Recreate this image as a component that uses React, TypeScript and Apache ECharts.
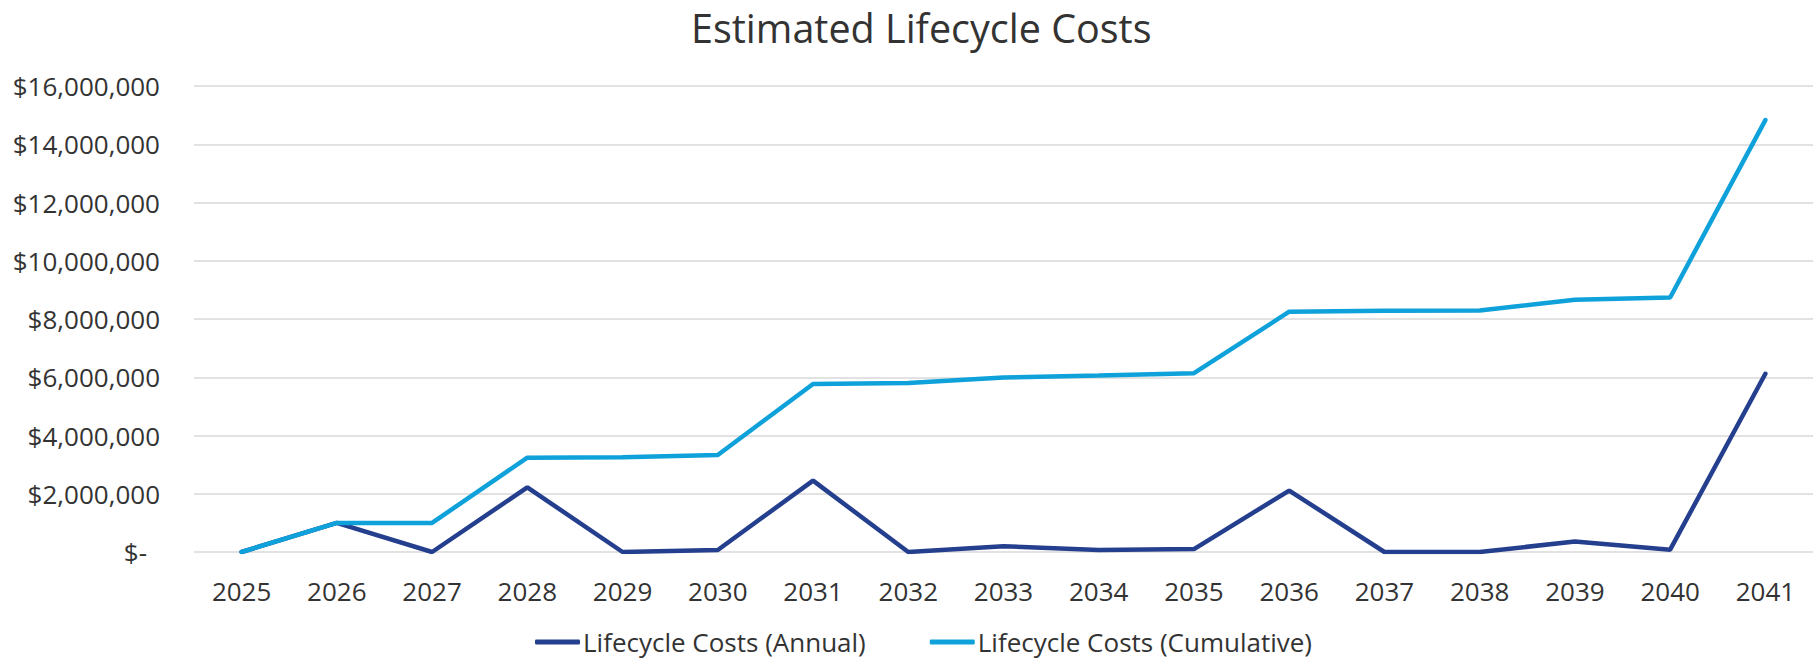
import React, { useEffect, useRef } from "react";
import * as echarts from "echarts";

const years = ["2025", "2026", "2027", "2028", "2029", "2030", "2031", "2032", "2033", "2034", "2035", "2036", "2037", "2038", "2039", "2040", "2041"];
const annualCosts = [0, 1000000, 0, 2220000, 0, 70000, 2450000, 0, 200000, 70000, 100000, 2110000, 0, 0, 360000, 80000, 6120000];
const cumulativeCosts = [0, 1000000, 1000000, 3240000, 3250000, 3330000, 5770000, 5800000, 5990000, 6060000, 6140000, 8250000, 8280000, 8290000, 8660000, 8740000, 14830000];
const seriesNames = ["Lifecycle Costs (Annual)", "Lifecycle Costs (Cumulative)"];
const chartTitle = "Estimated Lifecycle Costs";

const FONT = "'Open Sans', 'Noto Sans', sans-serif";
const TEXT = "#333333";

function formatMoney(v: number): string {
  if (v === 0) return "{z|$-}";
  return "$" + v.toLocaleString("en-US");
}

export default function App() {
  const ref = useRef<HTMLDivElement>(null);
  useEffect(() => {
    document.body.style.margin = "0";
    const chart = echarts.init(ref.current!, null, { renderer: "svg" });
    chart.setOption({
      animation: false,
      backgroundColor: "#ffffff",
      textStyle: { fontFamily: FONT },
      title: {
        text: chartTitle,
        left: 686,
        top: 3,
        textStyle: { fontFamily: FONT, fontSize: 39.5, fontWeight: "normal", color: TEXT },
      },
      legend: {
        left: 530,
        top: 624,
        icon: "roundRect",
        itemWidth: 45,
        itemHeight: 5,
        itemGap: 64,
        textStyle: { fontFamily: FONT, fontSize: 26, lineHeight: 26, color: TEXT, padding: [0, 0, 0, -2] },
        data: seriesNames,
      },
      grid: { left: 194, right: 0, top: 86, bottom: 109, containLabel: false },
      xAxis: {
        type: "category",
        data: years,
        boundaryGap: true,
        axisLine: { show: false },
        axisTick: { show: false },
        axisLabel: { fontFamily: FONT, fontSize: 26, color: TEXT, margin: 26 },
      },
      yAxis: {
        type: "value",
        min: 0,
        max: 16000000,
        interval: 2000000,
        axisLine: { show: false },
        axisTick: { show: false },
        splitLine: { lineStyle: { color: "#d9d9d9", width: 1.5 } },
        axisLabel: {
          fontFamily: FONT,
          fontSize: 26,
          color: TEXT,
          margin: 34,
          formatter: formatMoney,
          rich: { z: { fontFamily: FONT, fontSize: 26, color: TEXT, padding: [0, 13, 0, 0] } },
        },
      },
      series: [
        {
          name: seriesNames[0],
          type: "line",
          data: annualCosts,
          symbol: "none",
          color: "#253F8F",
          lineStyle: { width: 4.5, color: "#253F8F", cap: "round" },
          z: 2,
        },
        {
          name: seriesNames[1],
          type: "line",
          data: cumulativeCosts,
          symbol: "none",
          color: "#0FA1DA",
          lineStyle: { width: 4.5, color: "#0FA1DA", cap: "round" },
          z: 3,
        },
      ],
    });
    return () => chart.dispose();
  }, []);
  return <div ref={ref} style={{ width: 1813, height: 661 }} />;
}
